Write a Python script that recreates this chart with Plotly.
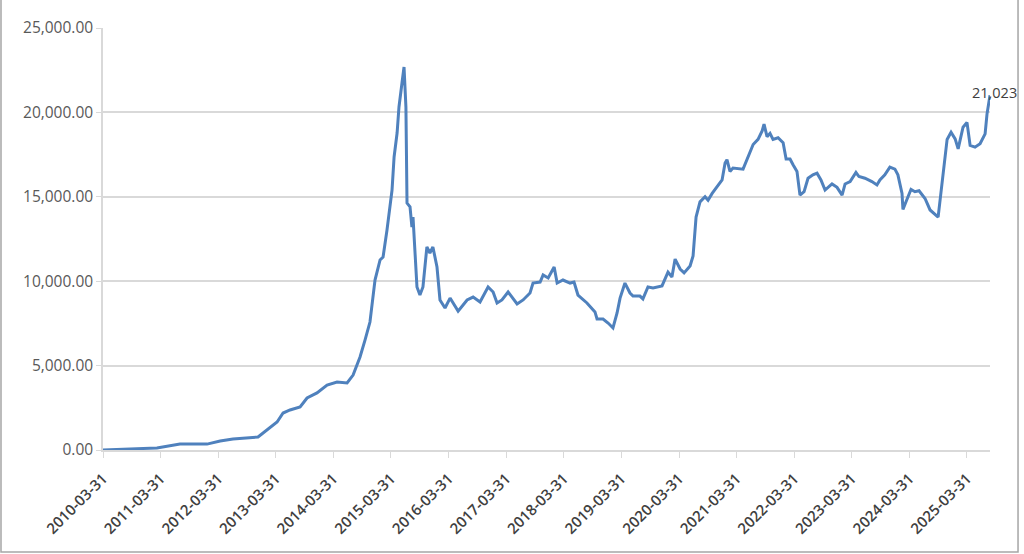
import plotly.graph_objects as go

# margin balance
dates = [
    "2010-03-31", "2010-09-18", "2011-03-08", "2011-08-01", "2012-01-20", "2012-04-12",
    "2012-07-02", "2012-12-08", "2013-02-04", "2013-04-08", "2013-05-16", "2013-06-29",
    "2013-09-01", "2013-10-15", "2013-12-17", "2014-02-19", "2014-04-23", "2014-06-26",
    "2014-08-03", "2014-09-16", "2014-10-18", "2014-11-18", "2014-12-20", "2015-01-21",
    "2015-02-09", "2015-03-06", "2015-04-07", "2015-04-20", "2015-05-09", "2015-05-21",
    "2015-06-09", "2015-06-22", "2015-07-04", "2015-07-11", "2015-07-30", "2015-08-11",
    "2015-08-18", "2015-08-30", "2015-09-12", "2015-10-01", "2015-10-20", "2015-11-14",
    "2015-12-03", "2015-12-22", "2016-01-17", "2016-02-05", "2016-03-08", "2016-04-09",
    "2016-05-30", "2016-07-26", "2016-09-02", "2016-10-16", "2016-12-06", "2017-01-07",
    "2017-02-01", "2017-03-04", "2017-04-12", "2017-06-08", "2017-07-16", "2017-08-29",
    "2017-09-17", "2017-11-01", "2017-11-20", "2017-12-22", "2018-01-29", "2018-02-17",
    "2018-03-26", "2018-05-10", "2018-06-04", "2018-06-29", "2018-08-25", "2018-10-15",
    "2018-10-28", "2018-12-05", "2019-01-06", "2019-02-06", "2019-03-04", "2019-03-23",
    "2019-04-23", "2019-05-25", "2019-06-13", "2019-07-27", "2019-08-15", "2019-09-16",
    "2019-10-18", "2019-12-14", "2020-01-21", "2020-02-15", "2020-03-06", "2020-04-07",
    "2020-05-02", "2020-06-09", "2020-06-28", "2020-07-17", "2020-08-11", "2020-09-12",
    "2020-10-01", "2020-10-27", "2020-11-27", "2020-12-29", "2021-01-17", "2021-01-29",
    "2021-02-17", "2021-03-08", "2021-05-11", "2021-06-12", "2021-07-14", "2021-08-14",
    "2021-09-09", "2021-09-21", "2021-10-10", "2021-10-29", "2021-11-17", "2021-12-19",
    "2022-01-20", "2022-02-08", "2022-03-05", "2022-03-24", "2022-04-18", "2022-05-07",
    "2022-06-02", "2022-06-27", "2022-07-28", "2022-08-23", "2022-09-17", "2022-10-13",
    "2022-11-26", "2022-12-28", "2023-01-29", "2023-02-17", "2023-03-21", "2023-04-27",
    "2023-05-16", "2023-06-23", "2023-08-06", "2023-09-07", "2023-09-26", "2023-10-27",
    "2023-11-28", "2023-12-30", "2024-01-18", "2024-02-13", "2024-02-19", "2024-03-15",
    "2024-04-10", "2024-05-05", "2024-05-31", "2024-07-08", "2024-08-09", "2024-09-29",
    "2024-10-24", "2024-11-12", "2024-11-25", "2024-12-20", "2025-01-15", "2025-02-03",
    "2025-03-06", "2025-03-31", "2025-04-20", "2025-05-21", "2025-06-22", "2025-07-24",
    "2025-08-05", "2025-08-24",
]
balance = [
    0, 50, 120, 350, 350, 530,
    650, 770, 1180, 1660, 2190, 2370,
    2550, 3080, 3380, 3850, 4030, 3970,
    4440, 5510, 6520, 7580, 10070, 11260,
    11430, 13030, 15400, 17360, 18780, 20320,
    21740, 22690, 20320, 14630, 14400, 13210,
    13800, 11430, 9660, 9180, 9660, 12030,
    11670, 12030, 10840, 8890, 8410, 9000,
    8230, 8890, 9060, 8770, 9660, 9360,
    8710, 8890, 9360, 8650, 8890, 9300,
    9890, 9950, 10370, 10190, 10840, 9890,
    10070, 9890, 9950, 9180, 8710, 8180,
    7760, 7760, 7520, 7230, 8120, 9000,
    9890, 9300, 9120, 9120, 8950, 9660,
    9600, 9720, 10540, 10250, 11310, 10720,
    10490, 10900, 11500, 13800, 14700, 15000,
    14800, 15200, 15600, 16000, 17000, 17200,
    16500, 16700, 16640, 17400, 18100, 18400,
    18900, 19300, 18560, 18760, 18400, 18500,
    18200, 17240, 17240, 16900, 16500, 15100,
    15300, 16100, 16300, 16400, 16000, 15400,
    15760, 15560, 15100, 15760, 15900, 16440,
    16200, 16100, 15900, 15700, 16000, 16300,
    16760, 16640, 16300, 15200, 14250, 14840,
    15440, 15300, 15360, 14900, 14220, 13800,
    15800, 17200, 18400, 18820, 18430, 17840,
    19120, 19410, 18040, 17940, 18140, 18730,
    19900, 21023,
]

tick_dates = [f"{y}-03-31" for y in range(2010, 2026)]

fig = go.Figure()
fig.add_trace(
    go.Scatter(
        x=dates,
        y=balance,
        mode="lines",
        line=dict(color="#4F81BD", width=3),
        hoverinfo="x+y",
    )
)

# label on the last point
fig.add_annotation(
    x=dates[-1],
    y=balance[-1],
    text=f"{balance[-1]:,.0f}",
    showarrow=False,
    xanchor="center",
    yanchor="middle",
    xshift=4,
    yshift=3,
    font=dict(family="Open Sans", size=14.5, color="#404040"),
)

# grey frame round the chart (excel style)
fig.add_shape(
    type="rect",
    xref="paper",
    yref="paper",
    x0=-0.115,
    x1=1.0316,
    y0=-0.2417,
    y1=1.08,
    line=dict(color="#a6a6a6", width=1.5),
)

fig.update_layout(
    width=1024,
    height=554,
    margin=dict(l=103, r=34, t=28, b=104, autoexpand=False),
    plot_bgcolor="white",
    paper_bgcolor="white",
    showlegend=False,
    font=dict(family="Open Sans", color="#595959"),
    xaxis=dict(
        type="date",
        range=["2010-03-31", "2025-08-24"],
        tickvals=tick_dates,
        ticktext=tick_dates,
        tickangle=-45,
        tickfont=dict(size=15, color="#404040", weight=600),
        ticklabelstandoff=6,
        ticks="outside",
        ticklen=6,
        tickcolor="#d9d9d9",
        showgrid=False,
        showline=True,
        linecolor="#d9d9d9",
        linewidth=1.5,
        zeroline=False,
        automargin=False,
    ),
    yaxis=dict(
        range=[0, 25000],
        dtick=5000,
        tickformat=",.2f",
        tickfont=dict(size=15.5, color="#595959"),
        ticks="outside",
        ticklen=5,
        tickcolor="#d9d9d9",
        showgrid=True,
        gridcolor="#d9d9d9",
        gridwidth=1.5,
        showline=True,
        linecolor="#d9d9d9",
        linewidth=1.5,
        zeroline=False,
        automargin=False,
    ),
)

# the page body has a default margin, drop it so the figure fills the window
fig.write_html(
    "out.html",
    config={"displayModeBar": False},
    post_script="document.body.style.margin='0';document.body.style.overflow='hidden';",
)
